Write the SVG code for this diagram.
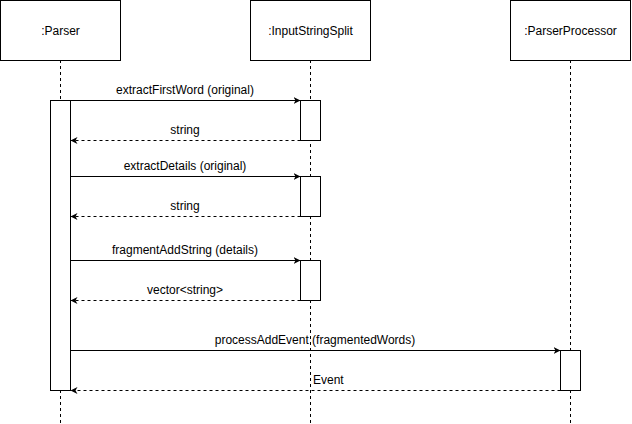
<svg xmlns="http://www.w3.org/2000/svg" width="632" height="424" viewBox="0 0 632 424">
<style>
.box{fill:#fff;stroke:#000;stroke-width:1}
.life{stroke:#000;stroke-width:1;stroke-dasharray:3 3;fill:none}
.msg{stroke:#000;stroke-width:1;fill:none}
.ret{stroke:#000;stroke-width:1;stroke-dasharray:3 3;fill:none}
.t{font-family:"Liberation Sans",Arial,sans-serif;font-size:12px;fill:#000;text-anchor:middle}
.m{font-family:"Liberation Sans",Arial,sans-serif;font-size:12px;fill:#000;text-anchor:middle}
</style>
<defs>
<marker id="ah" markerWidth="8" markerHeight="8" refX="7" refY="4" orient="auto" markerUnits="userSpaceOnUse">
<path d="M0,0.5 L7,4 L0,7.5 L2,4 Z" fill="#000"/>
</marker>
</defs>
<rect width="632" height="424" fill="#fff"/>
<g id="lifelines">
<line class="life" x1="60.5" y1="60" x2="60.5" y2="424"/>
<line class="life" x1="310.5" y1="60" x2="310.5" y2="424"/>
<line class="life" x1="570.5" y1="60" x2="570.5" y2="424"/>
</g>
<g id="parser">
<rect class="box" x="0.5" y="0.5" width="120" height="60"/>
<text class="t" x="60.5" y="34.5">:Parser</text>
</g>
<g id="inputStringSplit">
<rect class="box" x="250.5" y="0.5" width="120" height="60"/>
<text class="t" x="310.5" y="34.5">:InputStringSplit</text>
</g>
<g id="parserProcessor">
<rect class="box" x="510.5" y="0.5" width="120" height="60"/>
<text class="t" x="570.5" y="34.5">:ParserProcessor</text>
</g>
<g id="activations">
<rect class="box" x="50.5" y="100.5" width="20" height="290"/>
<rect class="box" x="300.5" y="100.5" width="20" height="40"/>
<rect class="box" x="300.5" y="176.5" width="20" height="40"/>
<rect class="box" x="300.5" y="260.5" width="20" height="40"/>
<rect class="box" x="560.5" y="350.5" width="20" height="40"/>
</g>
<g id="connectors">
<line class="msg" x1="70.5" y1="100.5" x2="300.5" y2="100.5" marker-end="url(#ah)"/>
<line class="ret" x1="300.5" y1="140.5" x2="70.5" y2="140.5" marker-end="url(#ah)"/>
<line class="msg" x1="70.5" y1="176.5" x2="300.5" y2="176.5" marker-end="url(#ah)"/>
<line class="ret" x1="300.5" y1="216.5" x2="70.5" y2="216.5" marker-end="url(#ah)"/>
<line class="msg" x1="70.5" y1="260.5" x2="300.5" y2="260.5" marker-end="url(#ah)"/>
<line class="ret" x1="300.5" y1="300.5" x2="70.5" y2="300.5" marker-end="url(#ah)"/>
<line class="msg" x1="70.5" y1="350.5" x2="560.5" y2="350.5" marker-end="url(#ah)"/>
<line class="ret" x1="560.5" y1="390.5" x2="70.5" y2="390.5" marker-end="url(#ah)"/>
<text class="m" x="185" y="94">extractFirstWord (original)</text>
<text class="m" x="185" y="134">string</text>
<text class="m" x="185" y="170">extractDetails (original)</text>
<text class="m" x="185" y="210">string</text>
<text class="m" x="185" y="254">fragmentAddString (details)</text>
<text class="m" x="185" y="294">vector&lt;string&gt;</text>
<text class="m" x="315" y="344">processAddEvent (fragmentedWords)</text>
<text class="m" x="313" y="384" style="text-anchor:start">Event</text>
</g>
</svg>
